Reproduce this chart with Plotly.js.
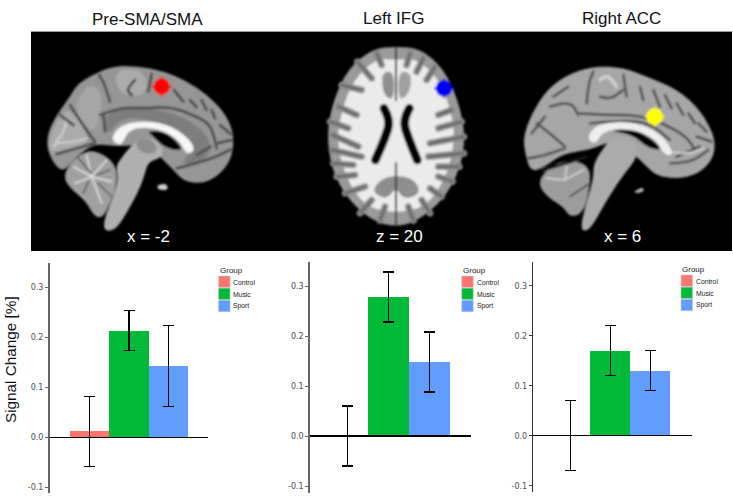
<!DOCTYPE html>
<html>
<head>
<meta charset="utf-8">
<script src="https://cdn.plot.ly/plotly-3.0.1.min.js"></script>
<style>html,body{margin:0;padding:0;background:#fff}</style>
</head>
<body>
<div id="myDiv" style="width:733px;height:499px"></div>
<script>
// Bar chart data
const groups = ['Control', 'Music', 'Sport'];
const groupColors = ['#F8766D', '#00BA38', '#619CFF'];
const tickVals = [-0.1, 0, 0.1, 0.2, 0.3];
const tickLabels = ['-0.1', '0.0', '0.1', '0.2', '0.3'];

const preSmaValues = [0.012, 0.213, 0.142];
const preSmaUpper = [0.082, 0.253, 0.223];
const preSmaLower = [-0.058, 0.173, 0.062];

const ifgValues = [0, 0.278, 0.148];
const ifgUpper = [0.06, 0.328, 0.208];
const ifgLower = [-0.06, 0.228, 0.088];

const accValues = [0, 0.17, 0.13];
const accUpper = [0.07, 0.22, 0.17];
const accLower = [-0.07, 0.12, 0.09];

const panelTitles = ['Pre-SMA/SMA', 'Left IFG', 'Right ACC'];
const sliceLabels = ['x = -2', 'z = 20', 'x = 6'];

const W = 733, H = 499;
const px = x => x / W;
const py = y => 1 - y / H;

// smooth closed/open path through midpoints
function sm(pts, closed) {
    const mid = (a, b) => [(a[0] + b[0]) / 2, (a[1] + b[1]) / 2];
    let d = '';
    if (closed) {
        const s = mid(pts[pts.length - 1], pts[0]);
        d = 'M' + s;
        pts.forEach((p, i) => { d += 'Q' + p + ' ' + mid(p, pts[(i + 1) % pts.length]); });
        return d + 'Z';
    }
    d = 'M' + pts[0];
    for (let i = 1; i < pts.length - 1; i++) d += 'Q' + pts[i] + ' ' + mid(pts[i], pts[i + 1]);
    return d + 'L' + pts[pts.length - 1];
}
const blob = (pts, c) => `<path d="${sm(pts, true)}" fill="${c}"/>`;
const line = (pts, c, w) => `<path d="${sm(pts, false)}" fill="none" stroke="${c}" stroke-width="${w}" stroke-linecap="round"/>`;
// a fold: soft grey halo with a dark core
const fold = (pts, w) => line(pts, '#6e6e6e', w * 2.4) + line(pts, '#2e2e2e', w);
function dot(x, y, c) {
    return `<circle cx="${x}" cy="${y}" r="25" fill="${c}"/>` +
        `<path d="M${x - 30},${y}H${x + 30}M${x},${y - 30}V${y + 30}" stroke="${c}" stroke-width="5"/>`;
}

// Sagittal slice, left panel
function brainOne() {
    let s = '';
    s += blob([[80,440],[85,395],[110,345],[150,290],[170,255],[215,225],[280,198],[350,198],[430,213],[500,243],[560,283],[610,333],[637,385],[642,440],[627,490],[590,532],[540,552],[490,542],[465,515],[440,490],[400,450],[340,435],[290,440],[222,430],[170,470],[130,517],[100,490]], '#969696');
    s += blob([[85,430],[110,360],[150,320],[215,425],[165,440],[90,462]], '#ababab');
    s += blob([[160,310],[215,245],[250,290],[240,340],[225,400],[185,365]], '#a6a6a6');
    s += blob([[280,215],[350,205],[385,240],[370,290],[300,285]], '#ababab');
    s += blob([[250,350],[300,328],[400,325],[490,350],[560,400],[575,450],[540,495],[480,490],[525,445],[470,395],[380,355],[300,355],[262,410]], '#7d7d7d');
    s += line([[100,440],[140,385],[135,355]], '#cccccc', 7);
    s += line([[110,430],[170,425],[200,415]], '#cccccc', 7);
    const sulci = [
        [[150,315],[185,370],[225,425]],
        [[225,430],[170,445],[110,462]],
        [[240,345],[300,322],[370,325],[450,320],[520,345],[570,372],[585,420],[590,445]],
        [[270,305],[255,255],[238,225]],
        [[345,240],[318,268],[335,285]],
        [[395,222],[385,275]],
        [[462,270],[490,305]],
        [[510,300],[530,322]],
        [[545,300],[560,330]],
        [[575,330],[585,355]],
        [[600,375],[632,402]],
        [[590,430],[635,420]],
        [[470,505],[530,490],[590,470],[632,448]],
        [[530,465],[572,440]],
        [[120,345],[160,375]],
        [[250,340],[255,395]]
    ];
    sulci.forEach(l => { s += fold(l, 4); });
    // cerebellum, thalamus, brainstem
    s += blob([[130,530],[150,490],[200,450],[250,460],[290,500],[290,560],[270,610],[250,652],[225,652],[195,600],[150,565]], '#a0a0a0');
    [[[215,530],[160,500]], [[215,530],[200,465]], [[215,530],[260,480]], [[215,530],[275,545]], [[215,530],[165,550]], [[215,530],[245,610]]].forEach(l => { s += line(l, '#dddddd', 5); });
    [[[215,520],[175,475]], [[230,525],[270,510]], [[205,545],[190,580]], [[235,550],[275,590]]].forEach(l => { s += line(l, '#4a4a4a', 4); });
    s += blob([[300,480],[330,440],[370,408],[420,425],[432,470],[385,485],[375,520],[360,565],[320,640],[285,692],[250,692],[255,650],[280,590],[295,540],[288,500]], '#b0b0b0');
    s += blob([[345,420],[385,412],[415,440],[400,465],[355,455]], '#8e8e8e');
    s += blob([[380,392],[440,395],[490,445],[470,452],[430,440],[400,410]], '#060606');
    s += blob([[276,410],[300,378],[360,362],[440,372],[500,408],[528,450],[500,464],[480,425],[440,395],[380,380],[325,390],[305,436],[282,428]], '#f6f6f6');
    s += blob([[410,555],[440,550],[445,570],[415,570]], '#d0d0d0');
    s += dot(425, 260, '#ff0000');
    return `<g transform="translate(20,0) scale(.3333)">${s}</g>`;
}

// Axial slice, middle panel
function brainTwo() {
    let s = blob([[378,140],[450,145],[520,205],[565,300],[587,410],[570,510],[520,600],[440,665],[378,680],[310,665],[235,600],[185,510],[170,400],[190,300],[235,205],[310,145]], '#9a9a9a');
    s += blob([[378,180],[440,175],[510,240],[545,340],[555,420],[530,530],[470,620],[378,640],[285,620],[225,530],[200,420],[215,330],[250,240],[320,175]], '#ebebeb');
    const gyri = [
        [[180,365],[235,385]], [[188,405],[265,440]], [[186,450],[275,470]], [[190,490],[250,495]], [[200,530],[255,525]], [[225,580],[285,560]],
        [[215,255],[275,270]], [[205,320],[260,345]], [[262,185],[305,235]], [[320,160],[335,195]],
        [[575,365],[505,385]], [[582,410],[480,430]], [[582,460],[475,470]], [[568,500],[505,500]], [[548,545],[505,530]], [[515,590],[480,565]],
        [[545,330],[505,345]], [[460,175],[440,215]], [[495,200],[470,240]], [[420,160],[410,195]],
        [[270,640],[305,600]], [[330,662],[345,620]], [[430,662],[415,620]], [[480,640],[455,600]]
    ];
    gyri.forEach(l => { s += line(l, '#8a8a8a', 20) + line(l, '#616161', 6); });
    s += blob([[330,540],[372,525],[430,535],[455,580],[400,600],[378,560],[350,600],[305,575]], '#8e8e8e');
    s += blob([[340,215],[372,215],[372,300],[345,290],[335,250]], '#8f8f8f');
    s += blob([[385,215],[420,215],[425,255],[410,290],[385,300]], '#a0a0a0');
    s += line([[378,143],[378,300]], '#333', 6);
    s += line([[378,490],[378,672]], '#333', 6);
    s += line([[342,325],[362,360],[345,415],[316,480]], '#060606', 26);
    s += line([[418,325],[398,360],[415,415],[442,480]], '#060606', 26);
    s += dot(522, 265, '#0000f0');
    return `<g transform="translate(270,0) scale(.3333)">${s}</g>`;
}

// Sagittal slice, right panel
function brainThree() {
    let s = '';
    s += blob([[100,410],[125,340],[170,270],[230,225],[310,198],[400,203],[480,233],[560,268],[620,318],[660,380],[677,430],[667,480],[625,522],[560,537],[500,527],[470,500],[430,460],[370,420],[300,450],[220,460],[165,500],[122,517],[105,460]], '#a6a6a6');
    const sulci = [
        [[140,370],[180,400],[225,440]], [[225,445],[170,465],[115,475]], [[125,400],[165,350]],
        [[270,340],[340,345],[440,345],[520,370],[590,410],[615,450]],
        [[290,310],[295,250],[310,215]], [[330,290],[360,300],[400,270]], [[400,225],[410,290]],
        [[180,320],[240,300],[265,345]], [[190,290],[235,260]],
        [[450,260],[460,300]], [[490,270],[510,320]], [[525,285],[545,325]], [[560,310],[580,345]], [[595,340],[615,370]], [[625,370],[650,395]],
        [[540,490],[600,490],[655,450]], [[560,470],[630,440]], [[620,410],[665,425]],
        [[300,370],[400,360],[480,370],[540,420]]
    ];
    sulci.forEach(l => { s += fold(l, 3.5); });
    s += line([[330,240],[350,220],[380,260]], '#d2d2d2', 10);
    s += line([[540,455],[590,465],[640,445]], '#cccccc', 7);
    s += blob([[140,545],[190,490],[250,480],[300,500],[300,560],[280,640],[240,652],[220,620],[170,590]], '#9c9c9c');
    [[[225,540],[170,535]], [[225,540],[230,500]], [[225,540],[280,510]]].forEach(l => { s += line(l, '#cdcdcd', 6); });
    s += line([[240,590],[300,550]], '#444', 5);
    s += line([[160,510],[290,470]], '#141414', 10);
    s += blob([[310,490],[350,430],[370,410],[430,420],[445,470],[400,525],[350,600],[300,692],[270,692],[285,620],[310,540]], '#ababab');
    s += blob([[350,390],[440,388],[500,428],[515,452],[470,442],[430,405]], '#060606');
    s += blob([[295,405],[320,375],[400,362],[480,382],[530,420],[552,468],[520,462],[500,420],[440,390],[380,385],[335,400],[320,428],[300,428]], '#eeeeee');
    s += blob([[430,575],[460,560],[462,575],[440,580]], '#b8b8b8');
    s += dot(494, 350, '#ffff00');
    return `<g transform="translate(490,0) scale(.3333)">${s}</g>`;
}

const svg = `<svg xmlns="http://www.w3.org/2000/svg" width="${W}" height="${H}" viewBox="0 0 ${W} ${H}">` +
    '<defs><filter id="b" x="-5%" y="-5%" width="110%" height="110%"><feGaussianBlur stdDeviation="0.9"/></filter></defs>' +
    '<rect x="31" y="31" width="701" height="220" fill="#000"/><path d="M31,31.5H732" stroke="#999" stroke-width="1"/>' +
    `<g filter="url(#b)">${brainOne()}${brainTwo()}${brainThree()}</g></svg>`;

// pixel geometry of the three bar panels
const panels = [
    { values: preSmaValues, upper: preSmaUpper, lower: preSmaLower, left: 50, right: 208, top: 263, bottom: 493, zero: 437.3, unitX: 39.5, firstX: 89.5, axisColor: '#666', axisWidth: 2, legendX: 218.5, legendY: 276, titleX: 147, titleY: 19, sliceX: 148, sliceY: 237 },
    { values: ifgValues, upper: ifgUpper, lower: ifgLower, left: 310.3, right: 471, top: 262.3, bottom: 493, zero: 436, unitX: 41, firstX: 347.2, axisColor: '#666', axisWidth: 2, legendX: 461.7, legendY: 276, titleX: 393, titleY: 18, sliceX: 399, sliceY: 237 },
    { values: accValues, upper: accUpper, lower: accLower, left: 533.3, right: 691.7, top: 261.7, bottom: 492, zero: 435.7, unitX: 39.8, firstX: 570.5, axisColor: '#333', axisWidth: 1.5, legendX: 681, legendY: 275, titleX: 621, titleY: 18, sliceX: 622.7, sliceY: 236 }
];

const data = [];
const layout = {
    width: W, height: H, autosize: false,
    margin: { l: 0, r: 0, t: 0, b: 0 },
    paper_bgcolor: '#fff', plot_bgcolor: 'rgba(0,0,0,0)',
    showlegend: false, bargap: 0,
    font: { family: 'Liberation Sans, Arial, sans-serif', color: '#111' },
    images: [{
        source: 'data:image/svg+xml,' + encodeURIComponent(svg),
        xref: 'paper', yref: 'paper', x: 0, y: 1, sizex: 1, sizey: 1,
        sizing: 'stretch', xanchor: 'left', yanchor: 'top', layer: 'below'
    }],
    shapes: [], annotations: []
};

function addText(text, x, y, size, color, anchor) {
    layout.annotations.push({
        text: text, xref: 'paper', yref: 'paper', x: px(x), y: py(y), showarrow: false,
        xanchor: anchor || 'center', yanchor: 'middle', borderpad: 0,
        font: { size: size, color: color }
    });
}

panels.forEach((p, i) => {
    const n = i == 0 ? '' : String(i + 1);
    data.push({
        type: 'bar', x: groups, y: p.values, width: 1,
        xaxis: 'x' + n, yaxis: 'y' + n,
        marker: { color: groupColors, line: { width: 0 } },
        cliponaxis: false, hoverinfo: 'x+y',
        error_y: {
            type: 'data', symmetric: false,
            array: p.upper.map((u, k) => u - p.values[k]),
            arrayminus: p.values.map((v, k) => v - p.lower[k]),
            color: '#000', thickness: 1.2, width: 5.5
        }
    });
    layout['xaxis' + n] = {
        domain: [px(p.left), px(p.right)], anchor: 'y' + n, type: 'category',
        range: [(p.left - p.firstX) / p.unitX, (p.right - p.firstX) / p.unitX],
        visible: false, fixedrange: true
    };
    layout['yaxis' + n] = {
        domain: [py(p.bottom), py(p.top)], anchor: 'x' + n,
        range: [(p.zero - p.bottom) / 500, (p.zero - p.top) / 500],
        tickvals: tickVals, ticktext: tickLabels, ticks: 'outside', ticklen: 3, tickwidth: 1,
        tickcolor: p.axisColor, showgrid: false, showline: true,
        linecolor: p.axisColor, linewidth: p.axisWidth,
        zeroline: true, zerolinecolor: '#000', zerolinewidth: 1.3, zerolinelayer: 'above traces',
        tickfont: { family: 'DejaVu Sans', size: 8, color: '#4d4d4d' }, fixedrange: true
    };
    addText(panelTitles[i], p.titleX, p.titleY, 17, '#111');
    addText(sliceLabels[i], p.sliceX, p.sliceY, 17, '#fff');
    addText('Group', p.legendX, p.legendY - 6, 8, '#222', 'left');
    groups.forEach((g, k) => {
        const y0 = p.legendY + k * 12.1;
        layout.shapes.push({
            type: 'rect', xref: 'paper', yref: 'paper',
            x0: px(p.legendX), x1: px(p.legendX + 11.6), y0: py(y0 + 11.6), y1: py(y0),
            fillcolor: groupColors[k], line: { color: '#d0d0d0', width: 0.6 }
        });
        addText(g, p.legendX + 14, y0 + 6, 6.8, '#222', 'left');
    });
});
// axis title sits off the axis centre in the reference, so it is placed by hand
layout.annotations.push({
    text: 'Signal Change [%]', xref: 'paper', yref: 'paper', x: px(10), y: py(360), textangle: -90,
    showarrow: false, xanchor: 'center', yanchor: 'middle', font: { size: 15.3, color: '#111' }
});

Plotly.newPlot('myDiv', data, layout, { staticPlot: true, displayModeBar: false });
</script>
</body>
</html>
